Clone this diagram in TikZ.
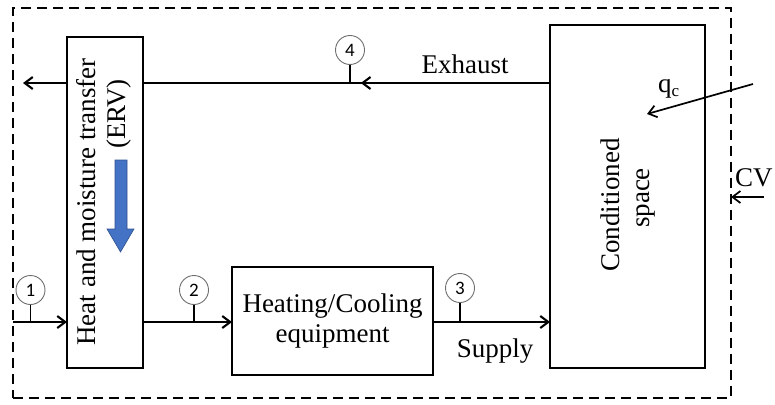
\documentclass[tikz,border=0pt]{standalone}
\usepackage{fontspec}
\setmainfont{Liberation Serif}
\newfontfamily\digitfont{Carlito}
\usetikzlibrary{arrows.meta,decorations.markings}
\definecolor{ervblue}{RGB}{68,114,196}
\definecolor{ervblueedge}{RGB}{47,82,143}
\definecolor{circgray}{RGB}{110,110,110}
\begin{document}
\begin{tikzpicture}[x=1pt,y=-1pt,
  box/.style={draw, line width=1.9pt, inner sep=0pt, outer sep=0pt},
  lbl/.style={font=\rmfamily\fontsize{27}{30}\selectfont, inner sep=0pt},
  flow/.style={line width=2.1pt, -{Straight Barb[length=8pt,width=12pt]}},
  thinflow/.style={line width=1.7pt, -{Straight Barb[length=8pt,width=12pt]}},
  tick/.style={line width=1.7pt},
  statept/.style={circle, draw=circgray, line width=0.9pt, minimum size=29pt, inner sep=0pt, font=\digitfont\fontsize{19}{19}\selectfont},
]
\useasboundingbox (0,0) rectangle (775,404);

% boxes
\node[box, dash pattern=on 10pt off 6pt, minimum width=718pt, minimum height=390pt] (cv) at (372,203) {};
\node[box, minimum width=76pt, minimum height=331pt] (erv) at (105,202.5) {};
\node[box, lbl, align=center, minimum width=201pt, minimum height=108pt] (hc) at (332.5,321) {Heating/Cooling\\equipment};
\node[box, minimum width=155pt, minimum height=343pt] (cs) at (627.5,196.5) {};

% texts
\node[lbl, rotate=90, anchor=base] (ervt1) at (95,202) {Heat and moisture transfer};
\node[lbl, rotate=90, anchor=base] (ervt2) at (125,114) {(ERV)};
\node[lbl, rotate=90, anchor=base] (cst1) at (619,205) {Conditioned};
\node[lbl, rotate=90, anchor=base] (cst2) at (649,198) {space};
\node[lbl, anchor=base] (exh) at (465,73) {Exhaust};
\node[lbl, anchor=base] (sup) at (495,357) {Supply};
\node[lbl, anchor=base west] (qc) at (658,92) {q\raisebox{-4pt}{\fontsize{17}{17}\selectfont c}};
\node[lbl, anchor=base west] (cvl) at (735,186) {CV};

% blue arrow in ERV
\filldraw[fill=ervblue, draw=ervblueedge, line width=0.6pt]
  (115,160) -- (127,160) -- (127,229) -- (134,229) -- (120.5,252) -- (107,229) -- (115,229) -- cycle;

% coordinates
\coordinate (exout) at (23,83);
\coordinate (inlevel) at (0,322);
\coordinate (inlet) at (cv.west |- inlevel);
\coordinate (qs) at (753,84);
\coordinate (qe) at (647,114);
\coordinate (cvs) at (764,197);

% flows
\draw[flow] (erv.west |- exout) -- (exout);
\draw[line width=2.1pt, postaction={decorate},
  decoration={markings, mark=at position 0.465 with {\arrow{Straight Barb[length=8pt,width=12pt]}}}]
  (cs.west |- exout) -- (erv.east |- exout);
\draw[flow] (inlet) -- (erv.west |- inlet);
\draw[flow] (erv.east |- inlet) -- (hc.west |- inlet);
\draw[flow] (hc.east |- inlet) -- (cs.west |- inlet);
\draw[thinflow] (qs) -- (qe);
\draw[thinflow] (cvs) -- (cv.east |- cvs);

% state points
\node[statept] (s1) at (30.5,290) {1};
\node[statept] (s2) at (194,290) {2};
\node[statept] (s3) at (460,288) {3};
\node[statept] (s4) at (350,50) {4};
\draw[tick] (s1.south) -- (s1.south |- inlet);
\draw[tick] (s2.south) -- (s2.south |- inlet);
\draw[tick] (s3.south) -- (s3.south |- inlet);
\draw[tick] (s4.south) -- (s4.south |- exout);
\end{tikzpicture}
\end{document}
